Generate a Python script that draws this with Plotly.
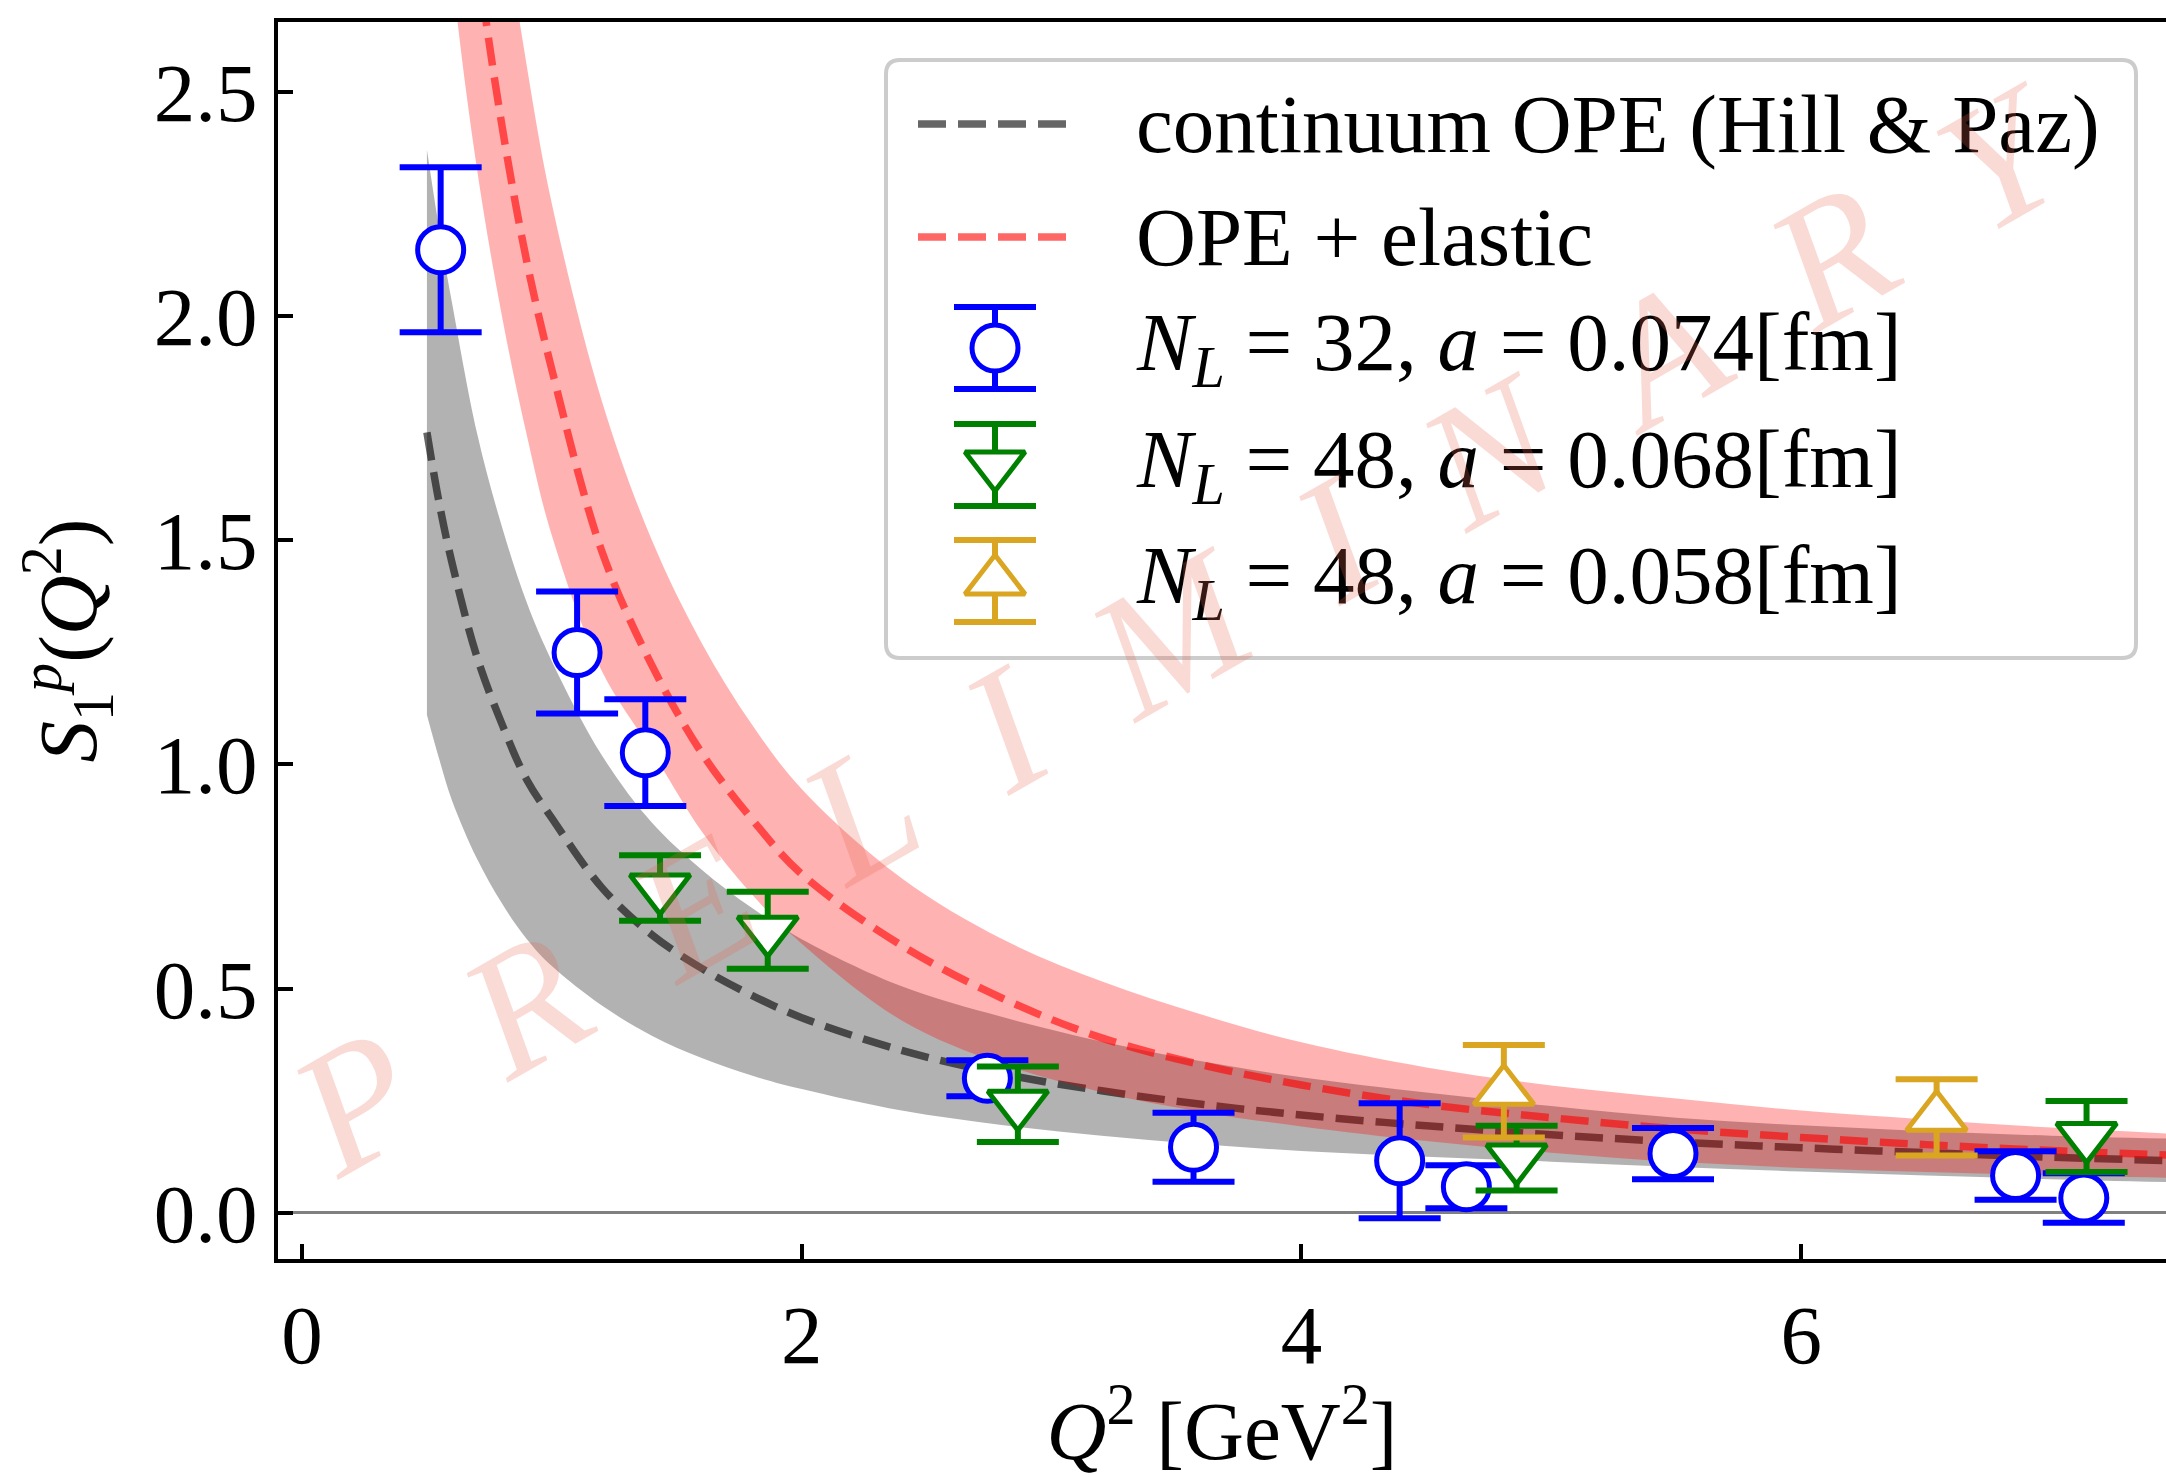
import plotly.graph_objects as go

# ---------------- data ----------------
# lattice points: N_L = 32, a = 0.074 fm
q2_l32 = [0.555, 1.101, 1.374, 2.743, 3.568, 4.393, 4.660, 5.487, 6.858, 7.131]
s1_l32 = [2.147, 1.249, 1.026, 0.300, 0.146, 0.116, 0.058, 0.132, 0.083, 0.033]
e_l32 = [0.184, 0.136, 0.119, 0.040, 0.077, 0.128, 0.048, 0.057, 0.054, 0.055]

# N_L = 48, a = 0.068 fm
q2_l48a = [1.433, 1.864, 2.865, 4.861, 7.142]
s1_l48a = [0.724, 0.630, 0.242, 0.122, 0.170]
e_l48a = [0.073, 0.086, 0.084, 0.072, 0.079]

# N_L = 48, a = 0.058 fm
q2_l48b = [4.810, 6.542]
s1_l48b = [0.271, 0.213]
e_l48b = [0.103, 0.085]

# continuum OPE (Hill & Paz): central value and band
q2_cont = [0.5, 0.55, 0.6, 0.7, 0.8, 0.9, 1.0, 1.2, 1.4, 1.6, 1.8, 2.0, 2.4, 2.8,
           3.2, 3.6, 4.0, 4.5, 5.0, 5.5, 6.0, 6.5, 7.0, 7.5]
cont_mid = [1.74, 1.58, 1.45, 1.24, 1.09, 0.965, 0.88, 0.725, 0.62, 0.545, 0.485, 0.435,
            0.362, 0.31, 0.272, 0.242, 0.218, 0.194, 0.174, 0.158, 0.145, 0.134, 0.124, 0.116]
cont_hi = [2.37, 2.19, 2.03, 1.74, 1.53, 1.36, 1.23, 1.02, 0.87, 0.765, 0.68, 0.61,
           0.505, 0.437, 0.382, 0.338, 0.302, 0.268, 0.238, 0.212, 0.195, 0.182, 0.172, 0.165]
cont_lo = [1.11, 1.01, 0.92, 0.79, 0.69, 0.61, 0.55, 0.462, 0.395, 0.345, 0.306, 0.276,
           0.228, 0.196, 0.172, 0.153, 0.138, 0.125, 0.114, 0.102, 0.092, 0.083, 0.075, 0.068]

# OPE + elastic: central value and band
q2_el = [0.5, 0.6, 0.7, 0.8, 0.9, 1.0, 1.2, 1.4, 1.6, 1.8, 2.0, 2.4, 2.8, 3.2, 3.6,
         4.0, 4.5, 5.0, 5.5, 6.0, 6.5, 7.0, 7.5]
el_mid = [4.04, 3.33, 2.81, 2.425, 2.12, 1.88, 1.475, 1.221, 1.025, 0.878, 0.755, 0.596,
          0.479, 0.39, 0.33, 0.285, 0.242, 0.212, 0.187, 0.168, 0.152, 0.139, 0.128]
el_hi = [4.9, 4.03, 3.40, 2.925, 2.556, 2.25, 1.81, 1.50, 1.27, 1.089, 0.945, 0.746,
         0.611, 0.516, 0.442, 0.38, 0.324, 0.284, 0.255, 0.228, 0.208, 0.19, 0.176]
el_lo = [3.40, 2.767, 2.329, 2.0, 1.733, 1.51, 1.208, 1.03, 0.85, 0.71, 0.60, 0.429,
         0.332, 0.269, 0.225, 0.1925, 0.16, 0.134, 0.1136, 0.10, 0.0908, 0.0836, 0.078]

x_ticks = [0, 2, 4, 6]
x_ticklabels = ["0", "2", "4", "6"]
y_ticks = [0.0, 0.5, 1.0, 1.5, 2.0, 2.5]
y_ticklabels = ["0.0", "0.5", "1.0", "1.5", "2.0", "2.5"]

legend_labels = [
    "continuum OPE (Hill &amp; Paz)",
    "OPE + elastic",
    "<i>N</i><sub><i>L</i></sub> = 32, <i>a</i> = 0.074[fm]",
    "<i>N</i><sub><i>L</i></sub> = 48, <i>a</i> = 0.068[fm]",
    "<i>N</i><sub><i>L</i></sub> = 48, <i>a</i> = 0.058[fm]",
]
watermark = "P R E L I M I N A R Y"

# ---------------- styles ----------------
FONT = "Liberation Serif"
FS = 83
BLUE, GREEN, GOLD = "#0000ff", "#008000", "#daa520"
GRAY_LINE = "rgba(0,0,0,0.6)"
RED_LINE = "rgba(255,0,0,0.6)"
DASH = "28px,12px"
LW = 7.5
CIRC_SIZE, TRI_SIZE = 46, 52

fig = go.Figure()

# gray band (continuum OPE)
fig.add_trace(go.Scatter(x=q2_cont, y=cont_lo, mode="lines",
                         line=dict(width=0, shape="spline"), hoverinfo="skip", showlegend=False))
fig.add_trace(go.Scatter(x=q2_cont, y=cont_hi, mode="lines",
                         line=dict(width=0, shape="spline"), fill="tonexty",
                         fillcolor="rgba(0,0,0,0.3)", hoverinfo="skip", showlegend=False))
fig.add_trace(go.Scatter(x=q2_cont, y=cont_mid, mode="lines", name=legend_labels[0],
                         line=dict(color=GRAY_LINE, width=LW, dash=DASH, shape="spline"),
                         showlegend=False))

# red band (OPE + elastic)
fig.add_trace(go.Scatter(x=q2_el, y=el_lo, mode="lines",
                         line=dict(width=0, shape="spline"), hoverinfo="skip", showlegend=False))
fig.add_trace(go.Scatter(x=q2_el, y=el_hi, mode="lines",
                         line=dict(width=0, shape="spline"), fill="tonexty",
                         fillcolor="rgba(255,0,0,0.3)", hoverinfo="skip", showlegend=False))
fig.add_trace(go.Scatter(x=q2_el, y=el_mid, mode="lines", name=legend_labels[1],
                         line=dict(color=RED_LINE, width=LW, dash=DASH, shape="spline"),
                         showlegend=False))


def eb(arr, color):
    return dict(type="data", array=arr, visible=True, color=color, thickness=6, width=41)


fig.add_trace(go.Scatter(x=q2_l32, y=s1_l32, mode="markers", name=legend_labels[2],
                         marker=dict(symbol="circle", size=CIRC_SIZE, color="white",
                                     line=dict(color=BLUE, width=5)),
                         error_y=eb(e_l32, BLUE), showlegend=False))
fig.add_trace(go.Scatter(x=q2_l48a, y=s1_l48a, mode="markers", name=legend_labels[3],
                         marker=dict(symbol="triangle-down", size=TRI_SIZE, color="white",
                                     line=dict(color=GREEN, width=5)),
                         error_y=eb(e_l48a, GREEN), showlegend=False))
fig.add_trace(go.Scatter(x=q2_l48b, y=s1_l48b, mode="markers", name=legend_labels[4],
                         marker=dict(symbol="triangle-up", size=TRI_SIZE, color="white",
                                     line=dict(color=GOLD, width=5)),
                         error_y=eb(e_l48b, GOLD), showlegend=False))

# ---------------- custom legend on a pixel overlay axis ----------------
PX_L, PX_R, PX_T, PX_B = 278, 2166, 22, 1259
row_y = [124, 237, 348, 465, 581]
sym_x0, sym_x1, sym_xc = 918, 1072, 995
text_x = 1134

fig.add_trace(go.Scatter(x=[sym_x0, sym_x1], y=[row_y[0]] * 2, mode="lines", xaxis="x2", yaxis="y2",
                         line=dict(color=GRAY_LINE, width=LW, dash=DASH), showlegend=False, hoverinfo="skip"))
fig.add_trace(go.Scatter(x=[sym_x0, sym_x1], y=[row_y[1]] * 2, mode="lines", xaxis="x2", yaxis="y2",
                         line=dict(color=RED_LINE, width=LW, dash=DASH), showlegend=False, hoverinfo="skip"))
for ry, sym, col, sz in [(row_y[2], "circle", BLUE, CIRC_SIZE), (row_y[3], "triangle-down", GREEN, TRI_SIZE),
                         (row_y[4], "triangle-up", GOLD, TRI_SIZE)]:
    fig.add_trace(go.Scatter(x=[sym_xc], y=[ry], mode="markers", xaxis="x2", yaxis="y2",
                             marker=dict(symbol=sym, size=sz, color="white", line=dict(color=col, width=5)),
                             error_y=dict(type="data", array=[41], color=col, thickness=6, width=41),
                             showlegend=False, hoverinfo="skip"))

bx0, bx1, by0, by1, rr = 886, 2136, 60, 658, 14
box_path = (f"M {bx0+rr},{by0} L {bx1-rr},{by0} Q {bx1},{by0} {bx1},{by0+rr} "
            f"L {bx1},{by1-rr} Q {bx1},{by1} {bx1-rr},{by1} L {bx0+rr},{by1} "
            f"Q {bx0},{by1} {bx0},{by1-rr} L {bx0},{by0+rr} Q {bx0},{by0} {bx0+rr},{by0} Z")
fig.add_shape(type="path", path=box_path, xref="x2", yref="y2",
              line=dict(color="#cccccc", width=4), fillcolor="rgba(255,255,255,0.8)", layer="below")

annotations = []
for lab, ry in zip(legend_labels, row_y):
    annotations.append(dict(x=text_x, y=ry, xref="x2", yref="y2", text=lab, showarrow=False,
                            xanchor="left", yanchor="middle", font=dict(family=FONT, size=FS, color="black")))

wm_text = "<i>" + "\u2002".join(watermark.split(" ")) + "</i>"
annotations.append(dict(x=1181, y=628, xref="x2", yref="y2", text=wm_text, showarrow=False,
                        textangle=-29.8, font=dict(family=FONT, size=176, color="rgba(230,100,80,0.24)")))

fig.update_layout(
    width=2166, height=1477,
    margin=dict(l=PX_L, r=2166 - PX_R, t=PX_T, b=1477 - PX_B, pad=0),
    plot_bgcolor="white", paper_bgcolor="white",
    showlegend=False,
    font=dict(family=FONT, size=FS, color="black"),
    annotations=annotations,
    xaxis=dict(range=[-0.096, 7.46], showgrid=False, zeroline=False, showline=True,
               linecolor="black", linewidth=4, mirror=True, ticks="inside", ticklen=15,
               tickwidth=4, tickcolor="black", tickvals=x_ticks, ticktext=x_ticklabels,
               tickfont=dict(family=FONT, size=FS),
               title=dict(text="<i>Q</i><sup>2</sup> [GeV<sup>2</sup>]",
                          font=dict(family=FONT, size=FS), standoff=11)),
    yaxis=dict(range=[-0.103, 2.655], showgrid=False, zeroline=True, zerolinecolor="#808080",
               zerolinewidth=3, showline=True, linecolor="black", linewidth=4, mirror=False,
               ticks="inside", ticklen=15, tickwidth=4, tickcolor="black",
               tickvals=y_ticks, ticktext=y_ticklabels, tickfont=dict(family=FONT, size=FS),
               title=dict(text="<i>S</i><sub>1</sub><sup><i>p</i></sup>(<i>Q</i><sup>2</sup>)",
                          font=dict(family=FONT, size=FS), standoff=31)),
    xaxis2=dict(overlaying="x", anchor="y2", range=[PX_L, PX_R], visible=False, fixedrange=True),
    yaxis2=dict(overlaying="y", anchor="x2", range=[PX_B, PX_T], visible=False, fixedrange=True),
)

fig.write_html("out.html",
               config={"displayModeBar": False},
               post_script="document.body.style.margin='0';document.body.style.overflow='hidden';")
